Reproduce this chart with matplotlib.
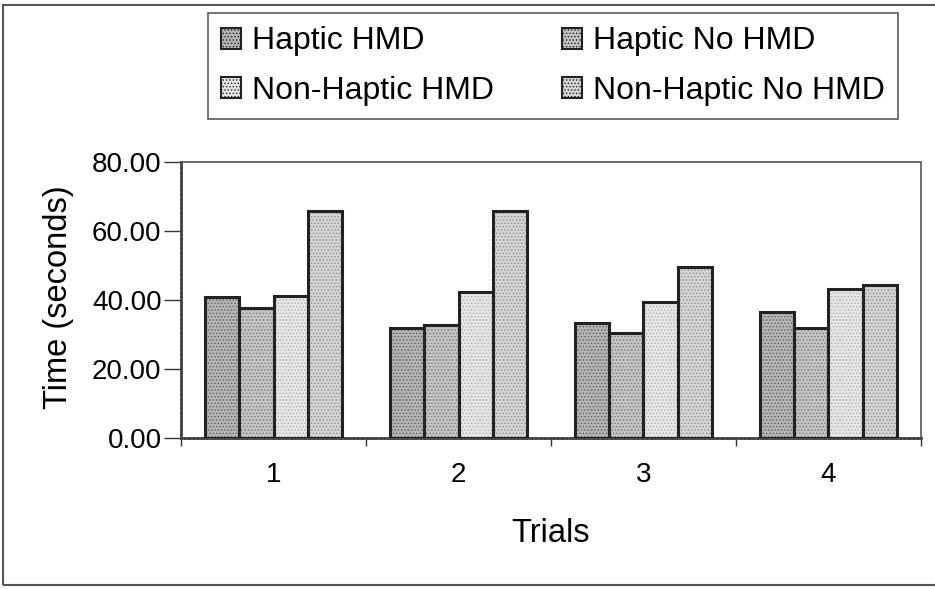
import matplotlib.pyplot as plt
import numpy as np
from matplotlib.patches import Rectangle, Patch

trials = ['1', '2', '3', '4']
series = ['Haptic HMD', 'Haptic No HMD', 'Non-Haptic HMD', 'Non-Haptic No HMD']
haptic_hmd = [41.0, 32.0, 33.2, 36.4]
haptic_no_hmd = [37.8, 32.8, 30.3, 32.0]
nonhaptic_hmd = [41.2, 42.2, 39.4, 43.1]
nonhaptic_no_hmd = [65.9, 65.8, 49.5, 44.3]
values = [haptic_hmd, haptic_no_hmd, nonhaptic_hmd, nonhaptic_no_hmd]

faces = ['#b4b4b4', '#c4c4c4', '#e6e6e6', '#d4d4d4']
dots = ['#606060', '#7a7a7a', '#b0b0b0', '#909090']

plt.rcParams['font.family'] = ['Liberation Sans', 'DejaVu Sans']
plt.rcParams['hatch.linewidth'] = 0.6

fig = plt.figure(figsize=(9.35, 5.89), dpi=100)
ax = fig.add_axes([0.1936, 0.2564, 0.7914, 0.4686])

x = np.arange(len(trials))
w = 0.185
for i, vals in enumerate(values):
    pos = x + (i - 1.5) * w
    ax.bar(pos, vals, w, color=faces[i], edgecolor=dots[i], hatch='.....',
           linewidth=0, zorder=2)
    ax.bar(pos, vals, w, fill=False, edgecolor='#222222', linewidth=2.2,
           zorder=3)

ax.set_xlim(-0.5, 3.5)
ax.set_ylim(0, 80)
ax.set_yticks([0, 20, 40, 60, 80])
ax.set_yticklabels(['%.2f' % v for v in [0, 20, 40, 60, 80]])
ax.set_xticks(x)
ax.set_xticklabels(trials)
ax.set_xticks([-0.5, 0.5, 1.5, 2.5, 3.5], minor=True)
ax.tick_params(axis='x', which='major', length=0, labelsize=20, pad=17)
ax.tick_params(axis='x', which='minor', length=6, width=1, color='#333333')
ax.tick_params(axis='y', length=12, width=1, color='#333333', labelsize=20,
               pad=2)

for s in ['top', 'right']:
    ax.spines[s].set_linestyle((0, (1, 1)))
    ax.spines[s].set_linewidth(1.2)
    ax.spines[s].set_color('#555555')
for s in ['left', 'bottom']:
    ax.spines[s].set_linestyle((0, (1, 0.6)))
    ax.spines[s].set_linewidth(2)
    ax.spines[s].set_color('#444444')

ax.set_ylabel('Time (seconds)', fontsize=23.5)
ax.yaxis.set_label_coords(-0.145, 0.51)
ax.set_xlabel('Trials', fontsize=23.5)
ax.xaxis.set_label_coords(0.5, -0.29)

handles = [Patch(facecolor=faces[i], edgecolor='#222222', linewidth=1.5,
                 hatch='.....') for i in range(4)]
order = [0, 2, 1, 3]
leg = fig.legend([handles[i] for i in order], [series[i] for i in order],
                 ncol=2, loc='upper left', mode='expand',
                 bbox_to_anchor=(208 / 935, 1 - 112 / 589, 690 / 935, 99 / 589),
                 fontsize=23, frameon=True, fancybox=False, edgecolor='#333333',
                 handlelength=0.62, handleheight=0.62, handletextpad=0.34,
                 columnspacing=1.0, borderpad=0.42, labelspacing=0.6,
                 borderaxespad=0)
leg.get_frame().set_linewidth(1.2)

fig.patches.append(Rectangle((3 / 935, 4 / 589), 1.0, 1 - 9 / 589,
                             transform=fig.transFigure, fill=False,
                             edgecolor='#555555', linewidth=1.5))

fig.savefig('out.png', dpi=100)
